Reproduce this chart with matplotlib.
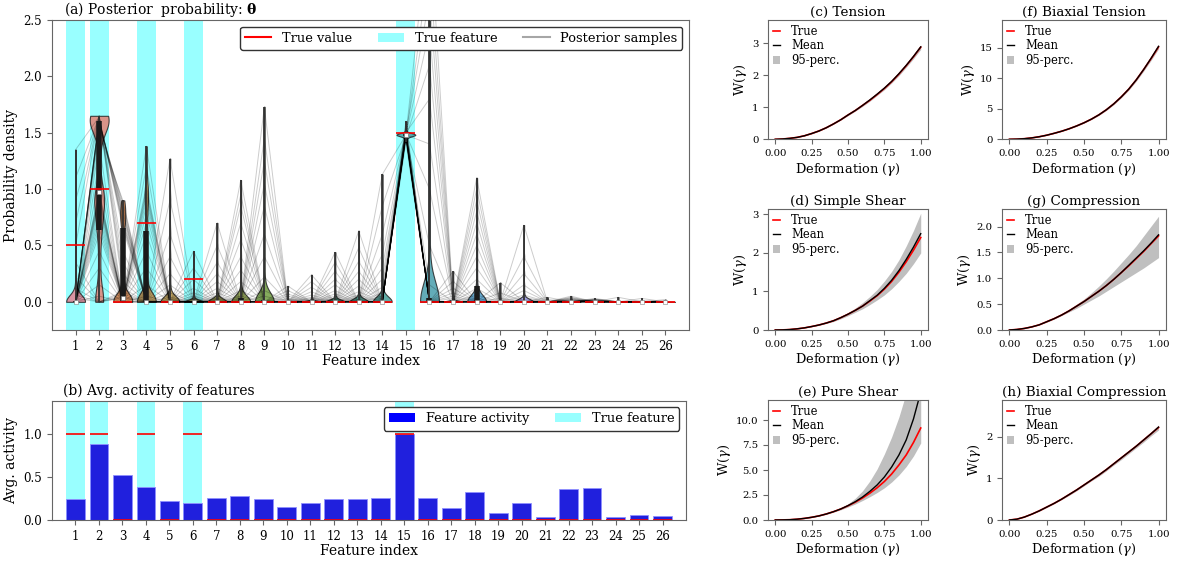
import matplotlib
matplotlib.use('Agg')
import matplotlib.pyplot as plt
from matplotlib.lines import Line2D
from matplotlib.patches import Patch
import numpy as np
import seaborn as sns

plt.rcParams['font.family'] = 'serif'
plt.rcParams['font.serif'] = ['DejaVu Serif']
plt.rcParams['mathtext.fontset'] = 'dejavuserif'
plt.rcParams['axes.edgecolor'] = '0.4'
plt.rcParams['xtick.color'] = '0.4'
plt.rcParams['ytick.color'] = '0.4'
plt.rcParams['xtick.labelcolor'] = 'black'
plt.rcParams['ytick.labelcolor'] = 'black'

# ---- data -------------------------------------------------------------
features = np.arange(1, 27)
true_features = [1, 2, 4, 6, 15]
true_values = [0.5, 1.0, 0, 0.7, 0, 0.2, 0, 0, 0, 0, 0, 0, 0,
               0, 1.5, 0, 0, 0, 0, 0, 0, 0, 0, 0, 0, 0]
true_activity = [1, 1, 0, 1, 0, 1, 0, 0, 0, 0, 0, 0, 0,
                 0, 1, 0, 0, 0, 0, 0, 0, 0, 0, 0, 0, 0]
activity = [0.25, 0.88, 0.52, 0.38, 0.22, 0.20, 0.26, 0.28, 0.25, 0.15, 0.20, 0.24, 0.24,
            0.26, 1.00, 0.26, 0.14, 0.33, 0.08, 0.20, 0.04, 0.36, 0.37, 0.035, 0.055, 0.045]

# non-zero posterior draws of each feature (the rest of the 40 draws are zero)
n_samples = 40
post_nonzero = {
    1: [1.35, 1.1, 0.9, 0.7, 0.5, 0.35, 0.22, 0.12, 0.06, 0.03],
    2: [0.05, 0.15, 0.3, 0.45, 0.6, 0.65, 0.7, 0.75, 0.8, 0.85, 0.88, 0.9, 0.92, 0.94, 0.96,
        0.98, 1.1, 1.25, 1.4, 1.5, 1.55, 1.58, 1.6, 1.6, 1.6, 1.61, 1.62, 1.62, 1.63, 1.63,
        1.64, 1.64, 1.65, 1.65, 1.65],
    3: [0.9, 0.88, 0.85, 0.82, 0.8, 0.78, 0.75, 0.72, 0.7, 0.68, 0.65, 0.45, 0.35, 0.25,
        0.18, 0.12, 0.09, 0.07, 0.05, 0.04, 0.03],
    4: [0.05, 0.15, 0.3, 0.45, 0.6, 0.7, 0.78, 0.85, 0.9, 0.94, 0.97, 1.0, 1.03, 1.2, 1.38],
    5: [1.27, 0.9, 0.6, 0.4, 0.25, 0.15, 0.08, 0.04, 0.02],
    6: [0.45, 0.3, 0.2, 0.12, 0.08, 0.05, 0.03, 0.02],
    7: [0.7, 0.5, 0.35, 0.25, 0.18, 0.12, 0.08, 0.05, 0.03, 0.02],
    8: [1.08, 0.95, 0.85, 0.7, 0.55, 0.4, 0.28, 0.18, 0.1, 0.05, 0.03],
    9: [1.73, 1.45, 1.25, 1.05, 0.85, 0.6, 0.4, 0.22, 0.1, 0.05],
    10: [0.14, 0.1, 0.07, 0.05, 0.03, 0.02],
    11: [0.24, 0.18, 0.13, 0.09, 0.06, 0.04, 0.03, 0.02],
    12: [0.44, 0.35, 0.27, 0.2, 0.15, 0.1, 0.07, 0.05, 0.03, 0.02],
    13: [0.63, 0.48, 0.36, 0.27, 0.2, 0.14, 0.09, 0.06, 0.04, 0.02],
    14: [1.13, 0.85, 0.6, 0.42, 0.3, 0.2, 0.13, 0.08, 0.05, 0.03],
    15: [1.48, 1.47, 1.49, 1.48, 1.46, 1.5, 1.48, 1.49, 1.47, 1.52, 1.48, 1.49, 1.45, 1.48,
         1.47, 1.5, 1.49, 1.48, 1.54, 1.47, 1.48, 1.49, 1.46, 1.5, 1.48, 1.47, 1.49, 1.56,
         1.48, 1.44, 1.49, 1.47, 1.5, 1.48, 1.51, 1.46, 1.49, 1.58, 1.42, 1.6],
    16: [3.4, 3.0, 2.7, 2.4, 2.1, 1.8, 1.4, 1.0, 0.5, 0.15],
    17: [0.27, 0.18, 0.12, 0.08, 0.05, 0.03],
    18: [1.1, 1.0, 0.9, 0.8, 0.7, 0.6, 0.5, 0.4, 0.3, 0.2, 0.12, 0.06, 0.03],
    19: [0.17, 0.08, 0.03],
    20: [0.68, 0.4, 0.25, 0.15, 0.1, 0.06, 0.04, 0.02],
    21: [0.04, 0.02],
    22: [0.05, 0.04, 0.035, 0.03, 0.025, 0.02, 0.02, 0.015, 0.01, 0.01, 0.008, 0.005, 0.004, 0.003],
    23: [0.03, 0.025, 0.022, 0.02, 0.018, 0.015, 0.012, 0.01, 0.01, 0.008, 0.006, 0.005,
         0.004, 0.003, 0.002],
    24: [0.04],
    25: [0.03, 0.01],
    26: [0.02, 0.01],
}

gamma = [0.0, 0.05, 0.1, 0.15, 0.2, 0.25, 0.3, 0.35, 0.4, 0.45, 0.5,
         0.55, 0.6, 0.65, 0.7, 0.75, 0.8, 0.85, 0.9, 0.95, 1.0]
# title, y-limit, y-ticks, true, mean, 2.5-perc., 97.5-perc.
panels = [
    ('(c) Tension', 3.73, [0, 1, 2, 3],
     [0.0, 0.01, 0.03, 0.06, 0.11, 0.18, 0.26, 0.36, 0.48, 0.61, 0.76, 0.9, 1.06, 1.22, 1.4, 1.59, 1.8, 2.04, 2.3, 2.58, 2.88],
     [0.0, 0.01, 0.03, 0.06, 0.11, 0.18, 0.26, 0.36, 0.48, 0.61, 0.76, 0.9, 1.06, 1.23, 1.41, 1.6, 1.81, 2.05, 2.31, 2.59, 2.89],
     [0.0, 0.01, 0.03, 0.06, 0.1, 0.17, 0.25, 0.35, 0.47, 0.6, 0.74, 0.88, 1.03, 1.19, 1.37, 1.55, 1.76, 1.99, 2.25, 2.52, 2.81],
     [0.0, 0.01, 0.03, 0.06, 0.12, 0.19, 0.27, 0.37, 0.49, 0.63, 0.78, 0.93, 1.09, 1.26, 1.44, 1.64, 1.85, 2.09, 2.36, 2.65, 2.95]),
    ('(d) Simple Shear', 3.14, [0, 1, 2, 3],
     [0.0, 0.003, 0.012, 0.03, 0.055, 0.09, 0.13, 0.18, 0.24, 0.32, 0.41, 0.51, 0.62, 0.75, 0.89, 1.06, 1.26, 1.5, 1.77, 2.07, 2.4],
     [0.0, 0.003, 0.012, 0.03, 0.055, 0.09, 0.13, 0.18, 0.24, 0.32, 0.41, 0.51, 0.62, 0.76, 0.9, 1.08, 1.29, 1.54, 1.83, 2.15, 2.5],
     [0.0, 0.003, 0.011, 0.028, 0.052, 0.085, 0.12, 0.17, 0.22, 0.29, 0.37, 0.46, 0.55, 0.66, 0.78, 0.91, 1.07, 1.26, 1.47, 1.72, 2.0],
     [0.0, 0.003, 0.013, 0.032, 0.058, 0.095, 0.14, 0.19, 0.26, 0.35, 0.45, 0.57, 0.71, 0.87, 1.05, 1.27, 1.52, 1.82, 2.18, 2.58, 3.03]),
    ('(e) Pure Shear', 12.0, [0, 2.5, 5, 7.5, 10],
     [0.0, 0.01, 0.03, 0.08, 0.16, 0.27, 0.41, 0.6, 0.83, 1.1, 1.42, 1.78, 2.2, 2.68, 3.22, 3.85, 4.6, 5.5, 6.5, 7.75, 9.2],
     [0.0, 0.01, 0.03, 0.08, 0.16, 0.27, 0.41, 0.6, 0.83, 1.1, 1.44, 1.83, 2.3, 2.86, 3.5, 4.3, 5.3, 6.5, 8.0, 10.1, 12.8],
     [0.0, 0.01, 0.03, 0.07, 0.15, 0.25, 0.39, 0.56, 0.78, 1.02, 1.3, 1.6, 1.95, 2.33, 2.75, 3.22, 3.8, 4.5, 5.35, 6.4, 7.7],
     [0.0, 0.01, 0.03, 0.09, 0.17, 0.29, 0.44, 0.65, 0.9, 1.22, 1.62, 2.18, 2.92, 3.9, 5.1, 6.6, 8.3, 10.3, 12.7, 15.8, 19.0]),
    ('(f) Biaxial Tension', 19.5, [0, 5, 10, 15],
     [0.0, 0.03, 0.1, 0.23, 0.42, 0.67, 0.98, 1.32, 1.72, 2.18, 2.7, 3.3, 4.0, 4.83, 5.8, 6.93, 8.2, 9.7, 11.4, 13.2, 15.1],
     [0.0, 0.03, 0.1, 0.23, 0.42, 0.67, 0.98, 1.32, 1.72, 2.18, 2.7, 3.3, 4.0, 4.83, 5.8, 6.93, 8.2, 9.7, 11.4, 13.25, 15.2],
     [0.0, 0.03, 0.1, 0.22, 0.41, 0.65, 0.96, 1.29, 1.68, 2.13, 2.64, 3.23, 3.91, 4.72, 5.67, 6.78, 8.02, 9.49, 11.15, 12.91, 14.78],
     [0.0, 0.03, 0.1, 0.24, 0.43, 0.69, 1.0, 1.35, 1.76, 2.23, 2.76, 3.37, 4.09, 4.94, 5.93, 7.08, 8.38, 9.91, 11.65, 13.49, 15.43]),
    ('(g) Compression', 2.34, [0, 0.5, 1.0, 1.5, 2.0],
     [0.0, 0.01, 0.03, 0.06, 0.1, 0.16, 0.22, 0.29, 0.37, 0.46, 0.55, 0.65, 0.75, 0.86, 0.98, 1.11, 1.24, 1.38, 1.52, 1.67, 1.82],
     [0.0, 0.01, 0.03, 0.06, 0.1, 0.16, 0.22, 0.29, 0.37, 0.46, 0.55, 0.65, 0.75, 0.86, 0.98, 1.11, 1.25, 1.39, 1.53, 1.68, 1.84],
     [0.0, 0.01, 0.03, 0.06, 0.1, 0.15, 0.21, 0.28, 0.35, 0.42, 0.5, 0.58, 0.66, 0.75, 0.84, 0.93, 1.02, 1.11, 1.2, 1.3, 1.4],
     [0.0, 0.01, 0.03, 0.06, 0.1, 0.17, 0.23, 0.31, 0.4, 0.5, 0.6, 0.72, 0.85, 0.99, 1.14, 1.3, 1.46, 1.63, 1.82, 2.01, 2.2]),
    ('(h) Biaxial Compression', 2.88, [0, 1, 2],
     [0.0, 0.02, 0.07, 0.14, 0.22, 0.31, 0.4, 0.5, 0.61, 0.72, 0.84, 0.96, 1.08, 1.21, 1.35, 1.49, 1.63, 1.77, 1.92, 2.07, 2.22],
     [0.0, 0.02, 0.07, 0.14, 0.22, 0.31, 0.4, 0.5, 0.61, 0.72, 0.84, 0.96, 1.08, 1.21, 1.35, 1.49, 1.63, 1.77, 1.92, 2.07, 2.23],
     [0.0, 0.02, 0.07, 0.14, 0.21, 0.3, 0.39, 0.49, 0.59, 0.7, 0.82, 0.94, 1.05, 1.18, 1.32, 1.45, 1.59, 1.73, 1.87, 2.02, 2.16],
     [0.0, 0.02, 0.07, 0.14, 0.23, 0.32, 0.41, 0.51, 0.63, 0.74, 0.86, 0.98, 1.11, 1.24, 1.38, 1.53, 1.67, 1.81, 1.97, 2.12, 2.28]),
]

# ---- posterior draws: even features fill the first draws, odd the last ones
samples = np.zeros((n_samples, len(features)))
for j, vals in post_nonzero.items():
    k = len(vals)
    if j % 2 == 0:
        samples[:k, j - 1] = vals
    else:
        samples[n_samples - k:, j - 1] = vals

fig = plt.figure(figsize=(11.77, 5.61), dpi=100)
W, H = 1177, 561


def px_axes(x0, y0, x1, y1):
    return fig.add_axes([x0 / W, 1 - y1 / H, (x1 - x0) / W, (y1 - y0) / H])


# ---- (a) posterior ----------------------------------------------------
ax = px_axes(52, 20, 689, 330)
for f in true_features:
    ax.axvspan(f - 0.4, f + 0.4, color='cyan', alpha=0.4, lw=0, zorder=0)

colors = [sns.desaturate(c, 0.75) for c in sns.color_palette('husl', len(features))]
parts = ax.violinplot([samples[:, i] for i in range(len(features))], positions=features,
                      widths=0.8, showextrema=False, bw_method=0.18)
for body, c in zip(parts['bodies'], colors):
    body.set_facecolor(c)
    body.set_edgecolor('0.15')
    body.set_linewidth(0.8)
    body.set_alpha(0.85)
    body.set_zorder(2)

for s in samples:
    ax.plot(features, s, color='k', alpha=0.2, lw=0.7, zorder=3)

q1, med, q3 = np.percentile(samples, [25, 50, 75], axis=0)
ax.vlines(features, samples.min(axis=0), samples.max(axis=0), color='0.2', lw=1.3, zorder=4)
ax.vlines(features, q1, q3, color='0.1', lw=4, zorder=4)
ax.hlines(true_values, features - 0.4, features + 0.4, color='red', lw=1.2, zorder=6)
ax.scatter(features, med, s=7, marker='s', color='white', edgecolor='0.5', lw=0.4, zorder=7)

ax.set_xlim(0, 27)
ax.set_ylim(-0.25, 2.5)
ax.set_xticks(features)
ax.tick_params(labelsize=8.5)
ax.set_xlabel('Feature index', fontsize=10, labelpad=1)
ax.set_ylabel('Probability density', fontsize=10)
ax.set_title('(a) Posterior  probability: $\\mathbf{\\theta}$', loc='left', x=0.019,
             fontsize=10, pad=4)
handles = [Line2D([], [], color='red', lw=1.5),
           Patch(facecolor='cyan', alpha=0.4),
           Line2D([], [], color='0.65', lw=1.5)]
ax.legend(handles, ['True value', 'True feature', 'Posterior samples'], ncol=3,
          loc='upper right', fontsize=9.4, framealpha=1, edgecolor='0.2')

# ---- (b) average activity ---------------------------------------------
axb = px_axes(52, 400.7, 686, 520)
for f in true_features:
    axb.axvspan(f - 0.4, f + 0.4, color='cyan', alpha=0.4, lw=0, zorder=0)
axb.bar(features, activity, width=0.8, color='#2020dd', edgecolor='#9090ff', lw=0.6, zorder=2)
axb.hlines(true_activity, features - 0.4, features + 0.4, color='red', lw=1.2, zorder=3)
axb.set_xlim(0, 27)
axb.set_ylim(0, 1.39)
axb.set_xticks(features)
axb.tick_params(labelsize=8.5)
axb.set_xlabel('Feature index', fontsize=10, labelpad=1)
axb.set_ylabel('Avg. activity', fontsize=10)
axb.set_title('(b) Avg. activity of features', loc='left', x=0.018, fontsize=10, pad=4)
axb.legend([Patch(facecolor='blue'), Patch(facecolor='cyan', alpha=0.4)],
           ['Feature activity', 'True feature'], ncol=2, loc='upper right',
           fontsize=9.4, framealpha=1, edgecolor='0.2')

# ---- (c)-(h) strain energy curves -------------------------------------
cols = [(768, 928), (1002, 1166)]
rows = [(20, 139.3), (209, 330), (400, 520)]
for i, (title, ytop, yticks, w_true, w_mean, w_lo, w_hi) in enumerate(panels):
    x0, x1 = cols[i // 3]
    y0, y1 = rows[i % 3]
    a = px_axes(x0, y0, x1, y1)
    a.fill_between(gamma, w_lo, w_hi, color='0.75', lw=0, label='95-perc.')
    a.plot(gamma, w_true, color='red', lw=1.2, label='True')
    a.plot(gamma, w_mean, color='black', lw=1.0, label='Mean')
    a.set_ylim(0, ytop)
    a.set_yticks(yticks)
    a.set_xticks([0, 0.25, 0.5, 0.75, 1.0])
    a.tick_params(labelsize=7.3)
    a.set_title(title, fontsize=9.7, pad=3)
    a.set_xlabel('Deformation ($\\gamma$)', fontsize=9.4, labelpad=2)
    a.set_ylabel('W($\\gamma$)', fontsize=9.4, labelpad=2)
    h, l = a.get_legend_handles_labels()
    a.legend([h[1], h[2], h[0]], [l[1], l[2], l[0]], loc='upper left', frameon=False,
             fontsize=8.3, handlelength=0.6, handletextpad=1.0, labelspacing=0.15,
             borderaxespad=0.2, borderpad=0.2)

fig.savefig('out.png', dpi=100)
